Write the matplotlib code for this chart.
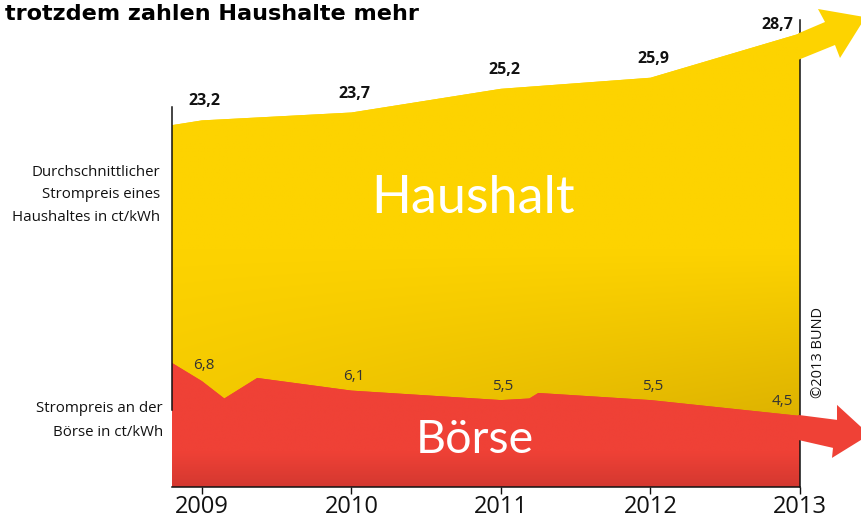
import numpy as np
import matplotlib
matplotlib.use("Agg")
import matplotlib.pyplot as plt
import matplotlib.transforms as mtransforms
from matplotlib.patches import Polygon

# ---------------- data ----------------
years = [2009, 2010, 2011, 2012, 2013]
haushalt = [23.2, 23.7, 25.2, 25.9, 28.7]
boerse = [6.8, 6.1, 5.5, 5.5, 4.5]
year_labels = ["2009", "2010", "2011", "2012", "2013"]

# outline of the filled areas (as drawn in the graphic, incl. in-between kinks)
haushalt_x = [2008.8, 2009.0, 2010.0, 2011.0, 2012.0, 2013.0]
haushalt_edge = [22.9, 23.2, 23.7, 25.2, 25.9, 28.7]
boerse_x = [2008.8, 2009.0, 2009.15, 2009.37, 2010.0, 2011.0, 2011.19, 2011.25, 2012.0, 2013.0]
boerse_edge = [7.85, 6.7, 5.6, 6.9, 6.1, 5.5, 5.6, 5.95, 5.5, 4.5]

title = "trotzdem zahlen Haushalte mehr"
label_haushalt = ["Durchschnittlicher", "Strompreis eines", "Haushaltes in ct/kWh"]
label_boerse = ["Strompreis an der", "Börse in ct/kWh"]
big_haushalt = "Haushalt"
big_boerse = "Börse"
credit = "©2013 BUND"

# ---------------- style ----------------
plt.rcParams["font.family"] = ["Open Sans", "DejaVu Sans"]
W, H = 861, 520
YELLOW = "#FDD300"
RED = "#EF4136"


def fmt(v):
    return f"{v:.1f}".replace(".", ",")


def px(x, y):
    return x / W, 1 - y / H


fig = plt.figure(figsize=(W / 100, H / 100), dpi=100)
ax = fig.add_axes([172 / W, 33 / H, 689 / W, 487 / H])

# yellow area with gradient
ypoly = Polygon([(haushalt_x[0], 0)] + list(zip(haushalt_x, haushalt_edge)) + [(haushalt_x[-1], 0)],
                closed=True, facecolor=YELLOW, edgecolor="none", zorder=1)
ax.add_patch(ypoly)
ny, nx = 300, 300
yy = np.linspace(0, 30.82, ny)[:, None]
xx = np.linspace(0, 1, nx)[None, :]
d = np.clip((15 - yy) / 11, 0, 1) * (0.3 + 0.7 * xx)
bright = np.array([253, 211, 0]) / 255
dark = np.array([220, 177, 0]) / 255
img = bright * (1 - d[..., None]) + dark * d[..., None]
im = ax.imshow(img, extent=(haushalt_x[0], haushalt_x[-1], 0, 30.82), origin="lower",
               aspect="auto", zorder=1.1, interpolation="bilinear")
im.set_clip_path(ypoly)

# red area with gradient
rpoly = Polygon([(boerse_x[0], 0)] + list(zip(boerse_x, boerse_edge)) + [(boerse_x[-1], 0)],
                closed=True, facecolor=RED, edgecolor="none", zorder=1.2)
ax.add_patch(rpoly)
yy = np.linspace(0, 9, ny)[:, None]
d = np.clip((2.2 - yy) / 2.2, 0, 1) * np.ones((1, nx))
rtop = np.array([239, 65, 54]) / 255
rbot = np.array([212, 56, 48]) / 255
img = rtop * (1 - d[..., None]) + rbot * d[..., None]
im2 = ax.imshow(img, extent=(boerse_x[0], boerse_x[-1], 0, 9), origin="lower",
                aspect="auto", zorder=1.3, interpolation="bilinear")
im2.set_clip_path(rpoly)

ax.set_xlim(2008.8, 2013.408)
ax.set_ylim(0, 30.82)
ax.patch.set_alpha(0)


# arrows continuing the two series (shape given in pixels, anchored at last data point)
def arrow(xd, yd, verts, color):
    tr = (mtransforms.Affine2D().scale(1 / 100.0) + fig.dpi_scale_trans
          + mtransforms.ScaledTranslation(xd, yd, ax.transData))
    p = Polygon(verts, closed=True, facecolor=color, edgecolor="none", transform=tr, zorder=3)
    ax.add_patch(p)


arrow(years[-1], haushalt[-1],
      [(-2, 0), (25, 11.5), (18, 24.5), (65.5, 16.3), (40, -24.5), (35, -11.5), (-2, -26.5)], YELLOW)
arrow(years[-1], boerse[-1],
      [(-2, 1), (37, -4), (37, 11), (69.5, -18.8), (32, -42), (33, -32), (-2, -24)], RED)

# spines
ax.spines["top"].set_visible(False)
for s in ("left", "right", "bottom"):
    ax.spines[s].set_linewidth(1.1)
    ax.spines[s].set_color("#111111")
ax.spines["left"].set_bounds(4.87, 24.05)
ax.spines["right"].set_position(("data", years[-1]))
ax.spines["right"].set_bounds(0, 29.56)
ax.spines["bottom"].set_bounds(haushalt_x[0], years[-1])

ax.set_yticks([])
ax.set_xticks(years)
ax.set_xticklabels(year_labels)
ax.tick_params(axis="x", direction="out", length=5, width=1, pad=1, labelsize=17, colors="#111111")

# value labels
for i, (yr, v) in enumerate(zip(years, haushalt)):
    if i == len(years) - 1:
        ax.annotate(fmt(v), (yr, v), xytext=(-7, 8), textcoords="offset pixels",
                    ha="right", va="center", fontsize=11.5, fontweight="bold", color="#111111", zorder=5)
    else:
        ax.annotate(fmt(v), (yr, v), xytext=(3, 19), textcoords="offset pixels",
                    ha="center", va="center", fontsize=11.5, fontweight="bold", color="#111111", zorder=5)
for i, (yr, v) in enumerate(zip(years, boerse)):
    if i == len(years) - 1:
        ax.annotate(fmt(v), (yr, v), xytext=(-7, 14), textcoords="offset pixels",
                    ha="right", va="center", fontsize=11, color="#333333", zorder=5)
    else:
        ax.annotate(fmt(v), (yr, v), xytext=(2, 14), textcoords="offset pixels",
                    ha="center", va="center", fontsize=11, color="#333333", zorder=5)

# big words
t1 = fig.text(*px(473, 213), big_haushalt, family=["Lato", "DejaVu Sans"], fontsize=40, color="white",
              ha="center", va="baseline", zorder=6)
t2 = fig.text(*px(475, 453), big_boerse, family=["Lato", "DejaVu Sans"], fontsize=40, color="white",
              ha="center", va="baseline", zorder=6)
tt = fig.text(*px(5, 20), title, ha="left", va="baseline", fontsize=15, fontweight="bold",
              family=["DejaVu Sans"], color="black")
fig.canvas.draw()
r = fig.canvas.get_renderer()
s1 = 204.0 / t1.get_window_extent(r).width
t1.set_fontsize(40 * s1)
s2 = 118.0 / t2.get_window_extent(r).width
t2.set_fontsize(40 * s2)
st = 415.0 / tt.get_window_extent(r).width
tt.set_fontsize(15 * st)

# left labels
for k, line in enumerate(label_haushalt):
    fig.text(*px(160, 173 + 22 * k), line, ha="right", va="center", fontsize=10.8, color="#111111")
for k, line in enumerate(label_boerse):
    fig.text(*px(163, 409 + 23 * k), line, ha="right", va="center", fontsize=10.8, color="#111111")

# credit
fig.text(*px(818, 353), credit, ha="center", va="center", rotation=90, fontsize=10.5, color="#111111")

fig.savefig("out.png", dpi=100)
